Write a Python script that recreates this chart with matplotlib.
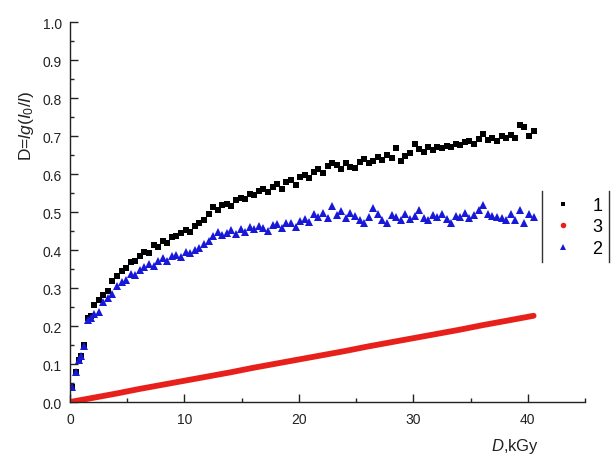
import matplotlib
matplotlib.use("Agg")
import matplotlib.pyplot as plt
from matplotlib.lines import Line2D

plt.rcParams["font.family"] = ["Liberation Sans", "DejaVu Sans"]
plt.rcParams["mathtext.fontset"] = "custom"
plt.rcParams["mathtext.it"] = "Liberation Sans:italic"
plt.rcParams["mathtext.rm"] = "Liberation Sans"

dose = [0.2, 0.5, 0.8, 1.0, 1.2, 1.6, 1.8,
        2.1, 2.5, 2.9, 3.3, 3.7, 4.1, 4.5, 4.9, 5.3, 5.7, 6.1, 6.5, 6.9, 7.3,
        7.7, 8.1, 8.5, 8.9, 9.3, 9.7, 10.1, 10.5, 10.9, 11.3, 11.7, 12.1, 12.5,
        12.9, 13.3, 13.7, 14.1, 14.5, 14.9, 15.3, 15.7, 16.1, 16.5, 16.9, 17.3,
        17.7, 18.1, 18.5, 18.9, 19.3, 19.7, 20.1, 20.5, 20.9, 21.3, 21.7, 22.1,
        22.5, 22.9, 23.3, 23.7, 24.1, 24.5, 24.9, 25.3, 25.7, 26.1, 26.5, 26.9,
        27.3, 27.7, 28.1, 28.5, 28.9, 29.3, 29.7, 30.1, 30.5, 30.9, 31.3, 31.7,
        32.1, 32.5, 32.9, 33.3, 33.7, 34.1, 34.5, 34.9, 35.3, 35.7, 36.1, 36.5,
        36.9, 37.3, 37.7, 38.1, 38.5, 38.9, 39.3, 39.7, 40.1, 40.5]

# series 1 (black squares)
od_1 = [0.04, 0.08, 0.11, 0.12, 0.15, 0.22, 0.226,
        0.255, 0.268, 0.282, 0.292, 0.318, 0.332, 0.345, 0.352, 0.368, 0.372,
        0.385, 0.394, 0.392, 0.412, 0.408, 0.425, 0.418, 0.433, 0.438, 0.446,
        0.452, 0.447, 0.462, 0.470, 0.478, 0.495, 0.512, 0.505, 0.518, 0.522,
        0.515, 0.532, 0.538, 0.535, 0.548, 0.545, 0.555, 0.560, 0.552, 0.566,
        0.575, 0.560, 0.578, 0.585, 0.572, 0.592, 0.598, 0.590, 0.606, 0.612,
        0.602, 0.620, 0.630, 0.623, 0.612, 0.628, 0.618, 0.615, 0.632, 0.640,
        0.628, 0.635, 0.645, 0.638, 0.650, 0.642, 0.668, 0.635, 0.648, 0.655,
        0.678, 0.665, 0.658, 0.670, 0.662, 0.672, 0.668, 0.675, 0.670, 0.680,
        0.676, 0.685, 0.688, 0.680, 0.692, 0.706, 0.690, 0.695, 0.688, 0.700,
        0.694, 0.702, 0.695, 0.728, 0.725, 0.700, 0.712]

# series 2 (blue triangles)
od_2 = [0.04, 0.08, 0.11, 0.12, 0.148, 0.215, 0.222,
        0.232, 0.238, 0.262, 0.275, 0.285, 0.305, 0.315, 0.322, 0.338, 0.335,
        0.348, 0.355, 0.362, 0.358, 0.372, 0.378, 0.370, 0.385, 0.388, 0.382,
        0.395, 0.392, 0.400, 0.405, 0.415, 0.425, 0.438, 0.447, 0.440, 0.445,
        0.452, 0.442, 0.455, 0.448, 0.460, 0.455, 0.463, 0.458, 0.450, 0.465,
        0.468, 0.458, 0.470, 0.472, 0.460, 0.476, 0.482, 0.474, 0.495, 0.488,
        0.498, 0.485, 0.516, 0.492, 0.502, 0.485, 0.498, 0.490, 0.480, 0.472,
        0.488, 0.510, 0.495, 0.480, 0.470, 0.492, 0.488, 0.478, 0.495, 0.482,
        0.490, 0.505, 0.485, 0.478, 0.492, 0.488, 0.495, 0.482, 0.472, 0.490,
        0.487, 0.498, 0.485, 0.492, 0.505, 0.518, 0.496, 0.490, 0.488, 0.484,
        0.478, 0.495, 0.480, 0.506, 0.470, 0.495, 0.488]

# series 3 (red, dense points forming a line)
dose_3 = [0, 2, 4, 6, 8, 10, 12, 14, 16, 18, 20, 22, 24, 26, 28, 30, 32, 34,
          36, 38, 40.5]
od_3 = [0.0, 0.011, 0.022, 0.034, 0.045, 0.056, 0.067, 0.078, 0.090, 0.101,
        0.112, 0.123, 0.134, 0.146, 0.157, 0.168, 0.179, 0.190, 0.202, 0.213,
        0.227]

legend_labels = ["1", "3", "2"]

fig = plt.figure(figsize=(6.11, 4.56), dpi=100)
ax = fig.add_axes([0.1146, 0.1162, 0.843, 0.8333])

ax.plot(dose, od_1, "s", color="black", ms=4.5, mew=0)
ax.plot(dose_3, od_3, "-", color="#e8201c", lw=4.2, solid_capstyle="round")
ax.plot(dose, od_2, "^", color="#1818d8", ms=5.4, mew=0)

ax.set_xlim(0, 45)
ax.set_ylim(0, 1.0)
ax.set_xticks([0, 10, 20, 30, 40])
ax.set_xticks([5, 15, 25, 35, 45], minor=True)
ax.set_yticks([i / 10 for i in range(11)])
ax.set_yticks([0.05 + i / 10 for i in range(10)], minor=True)
ax.yaxis.set_major_formatter(matplotlib.ticker.FormatStrFormatter("%.1f"))

for side in ["top", "right"]:
    ax.spines[side].set_visible(False)
for side in ["left", "bottom"]:
    ax.spines[side].set_linewidth(1.0)
    ax.spines[side].set_color("#222222")
ax.tick_params(which="both", direction="in", colors="#222222", labelsize=10,
               width=1.0)
ax.tick_params(which="major", length=6)
ax.tick_params(which="minor", length=3)
ax.tick_params(axis="y", pad=6)
ax.tick_params(axis="x", pad=7)

fig.text(0.043, 0.725, r"D=$\mathit{lg(I_0/I)}$", rotation=90,
         ha="center", va="center", fontsize=12.5, color="#222222")
fig.text(0.843, 0.02, r"$\mathit{D}$,kGy", ha="center", va="center",
         fontsize=12, color="#222222")

handles = [
    Line2D([], [], ls="none", marker="s", color="black", ms=3.5, mew=0),
    Line2D([], [], ls="none", marker="o", color="#e8201c", ms=4, mew=0),
    Line2D([], [], ls="none", marker="^", color="#1818d8", ms=4.5, mew=0),
]
fig.legend(handles, legend_labels, loc="center", bbox_to_anchor=(0.945, 0.50),
           frameon=False, fontsize=13, handlelength=1.2, handletextpad=1.0,
           labelspacing=0.25, borderpad=0.2)
for xf in (0.887, 0.997):
    fig.add_artist(Line2D([xf, xf], [0.423, 0.579], color="#333333", lw=1.0,
                          transform=fig.transFigure))

fig.savefig("out.png", dpi=100)
